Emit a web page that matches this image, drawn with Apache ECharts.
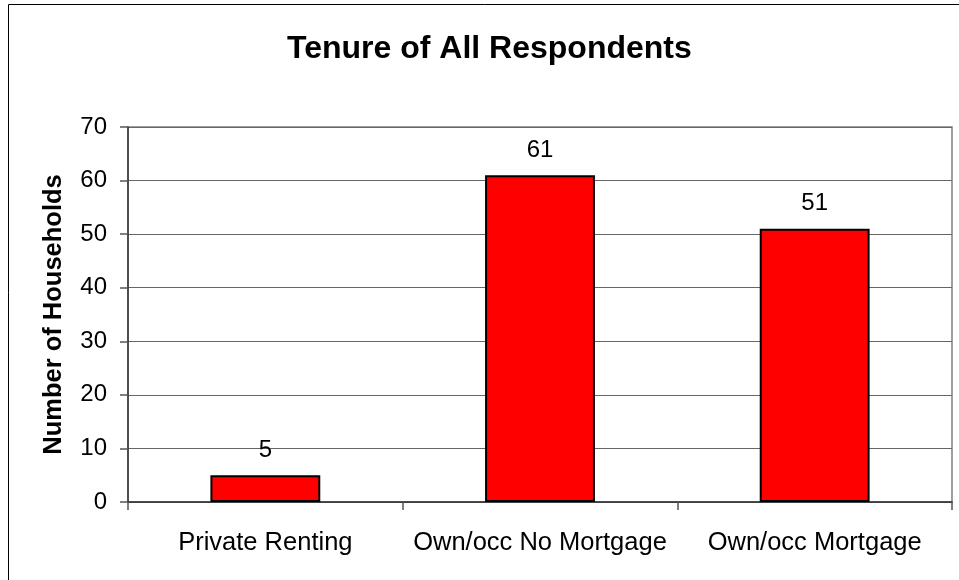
<!DOCTYPE html>
<html>
<head>
<meta charset="utf-8">
<script src="https://cdn.jsdelivr.net/npm/echarts@6/dist/echarts.min.js"></script>
<style>
  html, body { margin: 0; padding: 0; background: #fff; }
  #chart { width: 959px; height: 580px; }
</style>
</head>
<body>
<div id="chart"></div>
<script>
// Household tenure counts
const categories = ['Private Renting', 'Own/occ No Mortgage', 'Own/occ Mortgage'];
const households = [5, 61, 51];
const yTicks = { min: 0, max: 70, interval: 10 };

const FONT = 'Arial, "Liberation Sans", sans-serif';

const chart = echarts.init(document.getElementById('chart'), null, { renderer: 'canvas' });

chart.setOption({
  backgroundColor: '#ffffff',
  animation: false,
  title: {
    text: 'Tenure of All Respondents',
    left: 287,
    top: 33,
    padding: 0,
    textStyle: { fontFamily: FONT, fontWeight: 'bold', fontSize: 32, color: '#000' }
  },
  graphic: [{
    type: 'rect',
    silent: true,
    z: 100,
    shape: { x: 8.5, y: 4.5, width: 1200, height: 1200 },
    style: { fill: 'none', stroke: '#000', lineWidth: 1 }
  }],
  grid: {
    left: 128, right: 7, top: 127, bottom: 78,
    show: true,
    borderColor: '#808080',
    borderWidth: 1.5,
    backgroundColor: 'transparent'
  },
  xAxis: {
    type: 'category',
    data: categories,
    axisLine: { show: true, lineStyle: { color: '#333', width: 1.5 } },
    axisTick: { show: true, alignWithLabel: false, length: 8, lineStyle: { color: '#555', width: 1.5 } },
    axisLabel: { fontFamily: FONT, fontSize: 25.5, color: '#000', margin: 28, interval: 0 },
    splitLine: { show: false }
  },
  yAxis: {
    type: 'value',
    min: yTicks.min, max: yTicks.max, interval: yTicks.interval,
    name: 'Number of Households',
    nameLocation: 'middle',
    nameRotate: 90,
    nameGap: 61,
    nameTextStyle: { fontFamily: FONT, fontWeight: 'bold', fontSize: 25.5, color: '#000' },
    axisLine: { show: true, lineStyle: { color: '#333', width: 1.5 } },
    axisTick: { show: true, length: 8, lineStyle: { color: '#555', width: 1.5 } },
    axisLabel: { fontFamily: FONT, fontSize: 24, color: '#000', margin: 21 },
    splitLine: { show: true, lineStyle: { color: '#666', width: 1.2 } }
  },
  series: [{
    type: 'bar',
    data: households,
    barWidth: '40%',
    itemStyle: { color: '#ff0000', borderColor: '#000', borderWidth: 2 },
    label: {
      show: true,
      position: 'top',
      distance: 13,
      fontFamily: FONT,
      fontSize: 24,
      color: '#000'
    }
  }]
});
</script>
</body>
</html>
